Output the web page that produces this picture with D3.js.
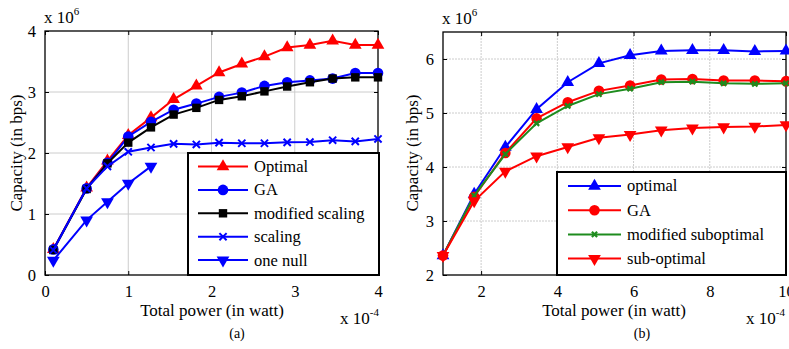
<!DOCTYPE html>
<html><head><meta charset="utf-8">
<script src="https://cdn.jsdelivr.net/npm/d3@7"></script>
<style>
body{margin:0;background:#fff}
svg text{font-family:'Liberation Serif','Times New Roman',Tinos,'DejaVu Serif',serif !important;fill:#000}
</style>
</head><body>
<svg id="c" width="789" height="349"></svg>
<script>
// ---------- Data: panel (a) ----------
const xA = [0.1,0.5,0.75,1.0,1.273,1.545,1.818,2.091,2.364,2.636,2.909,3.182,3.455,3.727,4.0];
const optimalA  = [0.42,1.43,1.87,2.29,2.58,2.88,3.10,3.32,3.46,3.58,3.73,3.77,3.84,3.77,3.77];
const gaA       = [0.42,1.42,1.84,2.27,2.51,2.71,2.81,2.92,2.99,3.10,3.16,3.19,3.22,3.31,3.31];
const modScalA  = [0.41,1.41,1.83,2.17,2.42,2.63,2.74,2.87,2.93,3.01,3.09,3.16,3.22,3.24,3.24];
const scalingA  = [0.41,1.42,1.78,2.02,2.09,2.15,2.14,2.17,2.16,2.16,2.175,2.18,2.21,2.19,2.23];
const xNull     = [0.1,0.5,0.75,1.0,1.273];
const oneNullA  = [0.24,0.90,1.20,1.50,1.78];
const xTicksA = [0,1,2,3,4];
const yTicksA = [0,1,2,3,4];
const labelsA = ["Optimal","GA","modified scaling","scaling","one null"];

// ---------- Data: panel (b) ----------
const xB = [1,1.818,2.636,3.455,4.273,5.091,5.909,6.727,7.545,8.364,9.182,10];
const optimalB = [2.36,3.50,4.37,5.07,5.57,5.92,6.07,6.15,6.16,6.16,6.14,6.15];
const gaB      = [2.36,3.45,4.26,4.90,5.20,5.41,5.51,5.62,5.63,5.60,5.60,5.59];
const modSubB  = [2.36,3.47,4.24,4.81,5.13,5.35,5.45,5.57,5.58,5.55,5.54,5.55];
const subOptB  = [2.36,3.37,3.92,4.20,4.37,4.54,4.60,4.68,4.72,4.74,4.75,4.78];
const xTicksB = [2,4,6,8,10];
const yTicksB = [2,3,4,5,6];
const labelsB = ["optimal","GA","modified suboptimal","sub-optimal"];

const RED="#ff0000", BLUE="#0000ff", BLACK="#000000", GREEN="#1e8c1e";
const FONT="'Liberation Serif','Times New Roman',Tinos,'DejaVu Serif',serif";
const svg = d3.select("#c");

function marker(g, type, x, y, color){
  if(type==="tri"){
    g.append("path").attr("d", d3.symbol(d3.symbolTriangle, 70)()).attr("transform",`translate(${x},${y})`).attr("fill",color);
  } else if(type==="tridown"){
    g.append("path").attr("d", d3.symbol(d3.symbolTriangle, 70)()).attr("transform",`translate(${x},${y}) rotate(180)`).attr("fill",color);
  } else if(type==="circle"){
    g.append("circle").attr("cx",x).attr("cy",y).attr("r",5.3).attr("fill",color);
  } else if(type==="square"){
    g.append("rect").attr("x",x-4.2).attr("y",y-4.2).attr("width",8.4).attr("height",8.4).attr("fill",color);
  } else if(type==="x"){
    const s=3.6;
    g.append("path").attr("d",`M${x-s},${y-s}L${x+s},${y+s}M${x-s},${y+s}L${x+s},${y-s}`).attr("stroke",color).attr("stroke-width",2).attr("fill","none");
  } else if(type==="smallx"){
    const s=2.6;
    g.append("path").attr("d",`M${x-s},${y-s}L${x+s},${y+s}M${x-s},${y+s}L${x+s},${y-s}`).attr("stroke",color).attr("stroke-width",2.2).attr("fill","none");
  }
}

function txt(g){ return g.append("text").attr("font-family",FONT).style("font-family",FONT); }

function panel(cfg){
  const g = svg.append("g");
  const x = d3.scaleLinear().domain(cfg.xDom).range(cfg.xRange);
  const y = d3.scaleLinear().domain(cfg.yDom).range(cfg.yRange);
  const [x0,x1]=cfg.xRange, [y0,y1]=cfg.yRange;
  // grid
  const grid = g.append("g").attr("stroke","#cccccc").attr("stroke-width",1);
  cfg.xTicks.forEach(t=>{ if(x(t)>x0+1 && x(t)<x1-1) grid.append("line").attr("x1",x(t)).attr("x2",x(t)).attr("y1",y1).attr("y2",y0).attr("stroke-dasharray",cfg.dash); });
  cfg.yTicks.forEach(t=>{ if(y(t)<y0-1 && y(t)>y1+1) grid.append("line").attr("y1",y(t)).attr("y2",y(t)).attr("x1",x0).attr("x2",x1).attr("stroke-dasharray",cfg.dash); });
  // axes via d3 (tick labels), ticks inward
  const xa = g.append("g").attr("transform",`translate(0,${y0})`)
    .call(d3.axisBottom(x).tickValues(cfg.xTicks).tickSize(-4).tickPadding(10).tickFormat(d3.format("d")));
  const xt = g.append("g").attr("transform",`translate(0,${y1})`)
    .call(d3.axisTop(x).tickValues(cfg.xTicks).tickSize(-4).tickFormat(""));
  const ya = g.append("g").attr("transform",`translate(${x0},0)`)
    .call(d3.axisLeft(y).tickValues(cfg.yTicks).tickSize(-4).tickPadding(9).tickFormat(d3.format("d")));
  const yr = g.append("g").attr("transform",`translate(${x1},0)`)
    .call(d3.axisRight(y).tickValues(cfg.yTicks).tickSize(-4).tickFormat(""));
  [xa,xt,ya,yr].forEach(a=>{ a.attr("font-family",FONT).attr("font-size",16); a.select(".domain").remove(); a.selectAll("line").attr("stroke","#000"); a.selectAll("text").style("font-family",FONT).style("font-size","16.5px").attr("fill","#000"); });
  // box
  g.append("rect").attr("x",x0).attr("y",y1).attr("width",x1-x0).attr("height",y0-y1).attr("fill","none").attr("stroke","#000").attr("stroke-width",1.3);
  // series
  const line = d3.line().x(d=>x(d[0])).y(d=>y(d[1]));
  cfg.series.forEach(s=>{
    const pts = s.xs.map((v,i)=>[v,s.ys[i]]);
    g.append("path").attr("d",line(pts)).attr("fill","none").attr("stroke",s.color).attr("stroke-width",2);
    pts.forEach(p=>marker(g,s.m,x(p[0]),y(p[1]),s.color));
  });
  // legend
  const L = cfg.legend;
  g.append("rect").attr("x",L.x).attr("y",L.y).attr("width",L.w).attr("height",L.h).attr("fill","#fff").attr("stroke","#000").attr("stroke-width",2);
  cfg.series.forEach((s,i)=>{
    const yy = L.row0 + i*L.step;
    g.append("line").attr("x1",L.lx0).attr("x2",L.lx1).attr("y1",yy).attr("y2",yy).attr("stroke",s.color).attr("stroke-width",2);
    marker(g, s.m, (L.lx0+L.lx1)/2, yy, s.color);
    txt(g).attr("x",L.tx).attr("y",yy).attr("dy","0.33em").style("font-size","16.5px").text(s.label);
  });
  // labels
  txt(g).attr("x",x0-1).attr("y",cfg.expY).style("font-size","17px").html('x 10<tspan dy="-8" font-size="11px">6</tspan>');
  txt(g).attr("x",cfg.xExpX).attr("y",324).style("font-size","17px").html('x 10<tspan dy="-8" font-size="11px">-4</tspan>');
  txt(g).attr("x",cfg.xlabX).attr("y",316).attr("text-anchor","middle").style("font-size","17px").text("Total power (in watt)");
  txt(g).attr("transform",`translate(${cfg.ylabX},153) rotate(-90)`).attr("text-anchor","middle").style("font-size","17px").text("Capacity (in bps)");
  txt(g).attr("x",cfg.capX).attr("y",338).attr("text-anchor","middle").style("font-size","14px").text(cfg.cap);
}

panel({
  xDom:[0,4], xRange:[45,378], yDom:[0,4], yRange:[275,31],
  xTicks:xTicksA, yTicks:yTicksA, dash:null,
  series:[
    {xs:xA, ys:optimalA, color:RED, m:"tri", label:labelsA[0]},
    {xs:xA, ys:gaA, color:BLUE, m:"circle", label:labelsA[1]},
    {xs:xA, ys:modScalA, color:BLACK, m:"square", label:labelsA[2]},
    {xs:xA, ys:scalingA, color:BLUE, m:"x", label:labelsA[3]},
    {xs:xNull, ys:oneNullA, color:BLUE, m:"tridown", label:labelsA[4]}
  ],
  legend:{x:188,y:153,w:191,h:122,row0:166.5,step:23.4,lx0:198,lx1:248,tx:254},
  expY:23, xExpX:340, xlabX:212, ylabX:22, capX:237, cap:"(a)"
});

panel({
  xDom:[1,10], xRange:[443,786], yDom:[2,6.5], yRange:[275,32],
  xTicks:xTicksB, yTicks:yTicksB, dash:"2,1",
  series:[
    {xs:xB, ys:optimalB, color:BLUE, m:"tri", label:labelsB[0]},
    {xs:xB, ys:gaB, color:RED, m:"circle", label:labelsB[1]},
    {xs:xB, ys:modSubB, color:GREEN, m:"smallx", label:labelsB[2]},
    {xs:xB, ys:subOptB, color:RED, m:"tridown", label:labelsB[3]}
  ],
  legend:{x:557,y:172,w:229,h:103,row0:186,step:24.2,lx0:568,lx1:621,tx:627},
  expY:24, xExpX:746, xlabX:614, ylabX:418, capX:642, cap:"(b)"
});
</script>
</body></html>
